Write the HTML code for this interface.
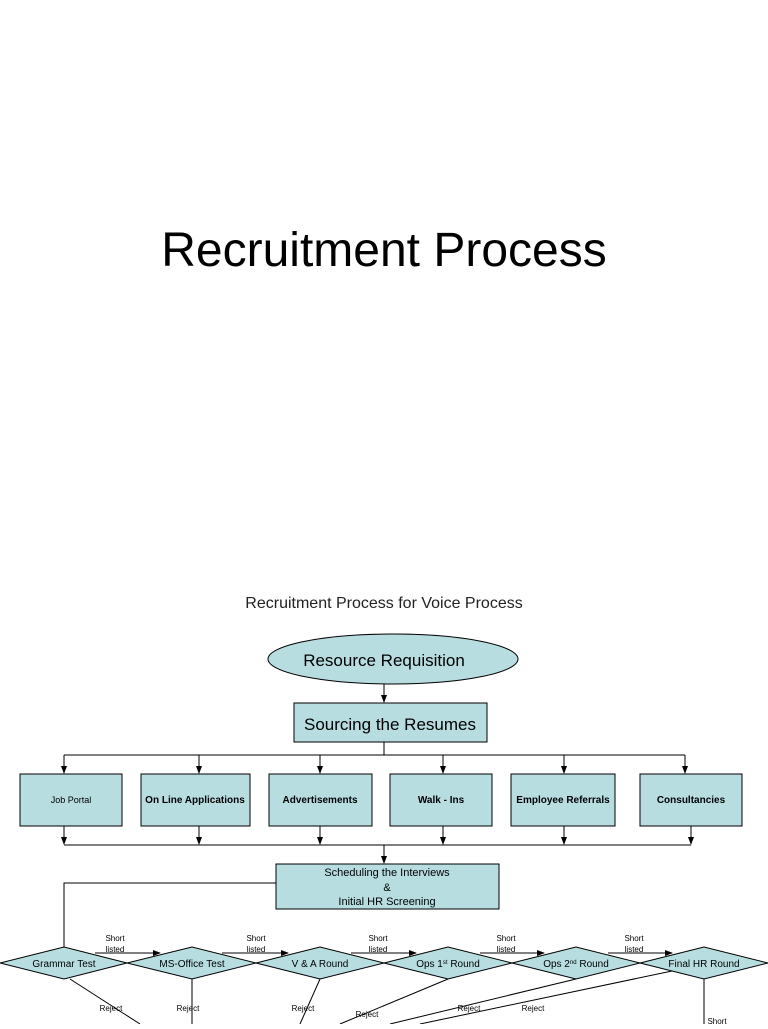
<!DOCTYPE html>
<html><head><meta charset="utf-8"><style>
body{margin:0;width:768px;height:1024px;background:#fff;overflow:hidden;font-family:"Liberation Sans",sans-serif}
</style></head><body>
<svg width="768" height="1024" viewBox="0 0 768 1024" xmlns="http://www.w3.org/2000/svg" font-family="Liberation Sans, sans-serif">
<defs><marker id="a" markerWidth="8" markerHeight="8" refX="7" refY="4" orient="auto" markerUnits="userSpaceOnUse"><path d="M0,1 L8,4 L0,7z" fill="#000"/></marker></defs>
<text x="384" y="266" font-size="48" text-anchor="middle">Recruitment Process</text>
<text x="384" y="608" font-size="16" text-anchor="middle" fill="#222">Recruitment Process for Voice Process</text>
<g stroke="#000" stroke-width="1" fill="#b7dde0">
<ellipse cx="393" cy="659" rx="125" ry="25"/>
<rect x="294" y="703" width="193" height="39"/>
<rect x="20" y="774" width="102" height="52"/>
<rect x="141" y="774" width="109" height="52"/>
<rect x="269" y="774" width="103" height="52"/>
<rect x="390" y="774" width="102" height="52"/>
<rect x="511" y="774" width="104" height="52"/>
<rect x="640" y="774" width="102" height="52"/>
<rect x="276" y="864" width="223" height="45"/>
<polygon points="0,963 64,947 127,963 64,979"/>
<polygon points="127,963 192,947 256,963 192,979"/>
<polygon points="256,963 320,947 384,963 320,979"/>
<polygon points="384,963 448,947 512,963 448,979"/>
<polygon points="512,963 576,947 640,963 576,979"/>
<polygon points="640,963 704,947 768,963 704,979"/>
</g>
<g stroke="#000" stroke-width="1" fill="none">
<line x1="384" y1="684" x2="384" y2="702" marker-end="url(#a)"/>
<line x1="384" y1="742" x2="384" y2="755"/>
<line x1="64" y1="755" x2="685" y2="755"/>
<line x1="64" y1="755" x2="64" y2="773" marker-end="url(#a)"/>
<line x1="199" y1="755" x2="199" y2="773" marker-end="url(#a)"/>
<line x1="320" y1="755" x2="320" y2="773" marker-end="url(#a)"/>
<line x1="443" y1="755" x2="443" y2="773" marker-end="url(#a)"/>
<line x1="564" y1="755" x2="564" y2="773" marker-end="url(#a)"/>
<line x1="685" y1="755" x2="685" y2="773" marker-end="url(#a)"/>
<line x1="64" y1="845" x2="691" y2="845"/>
<line x1="64" y1="826" x2="64" y2="844" marker-end="url(#a)"/>
<line x1="199" y1="826" x2="199" y2="844" marker-end="url(#a)"/>
<line x1="320" y1="826" x2="320" y2="844" marker-end="url(#a)"/>
<line x1="443" y1="826" x2="443" y2="844" marker-end="url(#a)"/>
<line x1="564" y1="826" x2="564" y2="844" marker-end="url(#a)"/>
<line x1="691" y1="826" x2="691" y2="844" marker-end="url(#a)"/>
<line x1="384" y1="845" x2="384" y2="863" marker-end="url(#a)"/>
<polyline points="276,883 64,883 64,947"/>
<line x1="95" y1="953" x2="160" y2="953" marker-end="url(#a)"/>
<line x1="222" y1="953" x2="288" y2="953" marker-end="url(#a)"/>
<line x1="351" y1="953" x2="416" y2="953" marker-end="url(#a)"/>
<line x1="480" y1="953" x2="544" y2="953" marker-end="url(#a)"/>
<line x1="608" y1="953" x2="672" y2="953" marker-end="url(#a)"/>
<line x1="70" y1="979" x2="140" y2="1024"/>
<line x1="192" y1="979" x2="192" y2="1024"/>
<line x1="320" y1="979" x2="300" y2="1024"/>
<line x1="448" y1="979" x2="340" y2="1024"/>
<line x1="576" y1="979" x2="390" y2="1024"/>
<line x1="672" y1="971" x2="420" y2="1024"/>
<line x1="704" y1="979" x2="704" y2="1024"/>
</g>
<g text-anchor="middle" fill="#000">
<text x="384" y="666" font-size="17">Resource Requisition</text>
<text x="390" y="730" font-size="17">Sourcing the Resumes</text>
<text x="71" y="803" font-size="9">Job Portal</text>
<text x="195" y="803" font-size="10" font-weight="bold">On Line Applications</text>
<text x="320" y="803" font-size="10" font-weight="bold">Advertisements</text>
<text x="441" y="803" font-size="10" font-weight="bold">Walk - Ins</text>
<text x="563" y="803" font-size="10" font-weight="bold">Employee Referrals</text>
<text x="691" y="803" font-size="10" font-weight="bold">Consultancies</text>
<text x="387" y="876" font-size="11">Scheduling the Interviews</text>
<text x="387" y="891" font-size="11">&amp;</text>
<text x="387" y="905" font-size="11">Initial HR Screening</text>
<text x="64" y="967" font-size="10">Grammar Test</text>
<text x="192" y="967" font-size="10">MS-Office Test</text>
<text x="320" y="967" font-size="10">V &amp; A Round</text>
<text x="448" y="967" font-size="10">Ops 1<tspan font-size="6" dy="-3">st</tspan><tspan dy="3"> Round</tspan></text>
<text x="576" y="967" font-size="10">Ops 2<tspan font-size="6" dy="-3">nd</tspan><tspan dy="3"> Round</tspan></text>
<text x="704" y="967" font-size="10">Final HR Round</text>
<g font-size="8">
<text x="115" y="941">Short</text><text x="115" y="952">listed</text>
<text x="256" y="941">Short</text><text x="256" y="952">listed</text>
<text x="378" y="941">Short</text><text x="378" y="952">listed</text>
<text x="506" y="941">Short</text><text x="506" y="952">listed</text>
<text x="634" y="941">Short</text><text x="634" y="952">listed</text>
<text x="111" y="1011">Reject</text>
<text x="188" y="1011">Reject</text>
<text x="303" y="1011">Reject</text>
<text x="367" y="1017">Reject</text>
<text x="469" y="1011">Reject</text>
<text x="533" y="1011">Reject</text>
<text x="717" y="1024">Short</text>
</g>
</g>
</svg>
</body></html>
